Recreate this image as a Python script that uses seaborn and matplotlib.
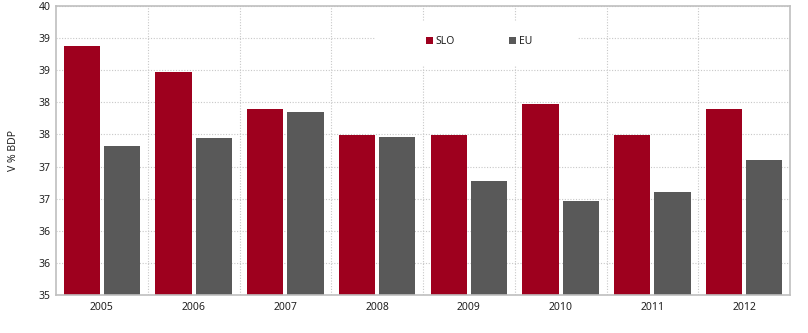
import matplotlib
matplotlib.use("Agg")
import matplotlib.pyplot as plt
import matplotlib.ticker as mticker
from matplotlib.patches import Rectangle
import seaborn as sns
import pandas as pd
import numpy as np

years = ["2005", "2006", "2007", "2008", "2009", "2010", "2011", "2012"]
slo = [39.31, 38.86, 38.21, 37.76, 37.76, 38.31, 37.76, 38.21]
eu = [37.57, 37.71, 38.16, 37.74, 36.97, 36.62, 36.78, 37.33]
series = ["SLO", "EU"]
colors = ["#9e001e", "#595959"]

df = pd.DataFrame({
    "year": years * 2,
    "value": slo + eu,
    "series": ["SLO"] * len(years) + ["EU"] * len(years),
})

sns.set_theme(style="white")
plt.rcParams['font.family'] = ['Noto Sans', 'DejaVu Sans']

fig = plt.figure(figsize=(8.08, 3.33), dpi=100)
ax = fig.add_axes([56 / 808, 1 - 295 / 333, 734 / 808, 289 / 333])

sns.barplot(data=df, x="year", y="value", hue="series", hue_order=series,
            palette=colors, width=0.88, gap=0.1, ax=ax, saturation=1,
            linewidth=0, legend=True)

ax.set_ylim(35, 40)
ax.set_xlim(-0.5, len(years) - 0.5)
ax.yaxis.set_major_locator(mticker.FixedLocator(np.linspace(35, 40, 10)))
ax.yaxis.set_major_formatter(mticker.FuncFormatter(lambda v, p: f"{v:.0f}"))
ax.xaxis.set_minor_locator(mticker.FixedLocator(np.arange(0.5, len(years) - 0.5, 1)))

ax.grid(axis="y", which="major", color="#c8c8c8", linestyle=(0, (1, 1.5)), linewidth=0.8)
ax.grid(axis="x", which="minor", color="#c8c8c8", linestyle=(0, (1, 1.5)), linewidth=0.8)
ax.set_axisbelow(True)

for s in ax.spines.values():
    s.set_color("#bfbfbf")
    s.set_linewidth(1.2)

ax.tick_params(axis="both", which="both", length=0, labelsize=7.5, colors="#222222")
ax.tick_params(axis="x", pad=5)
ax.tick_params(axis="y", pad=4)
ax.set_xlabel("")
ax.set_ylabel("V % BDP", fontsize=7.5, color="#222222", labelpad=14)

# white legend background box
ax.add_patch(Rectangle(((375 - 56) / 734, (295 - 65) / 289), (578 - 375) / 734, 43 / 289,
                       transform=ax.transAxes, facecolor="white", edgecolor="none",
                       zorder=0.8))

leg = ax.legend(loc="center left", bbox_to_anchor=((426 - 56) / 734, (295 - 42) / 289),
                ncol=2, frameon=False, fontsize=7.5, handlelength=0.65, handleheight=0.65,
                handletextpad=0.3, columnspacing=5.2, borderpad=0,
                borderaxespad=0)
for t in leg.get_texts():
    t.set_color("#222222")

fig.savefig("out.png", dpi=100)
